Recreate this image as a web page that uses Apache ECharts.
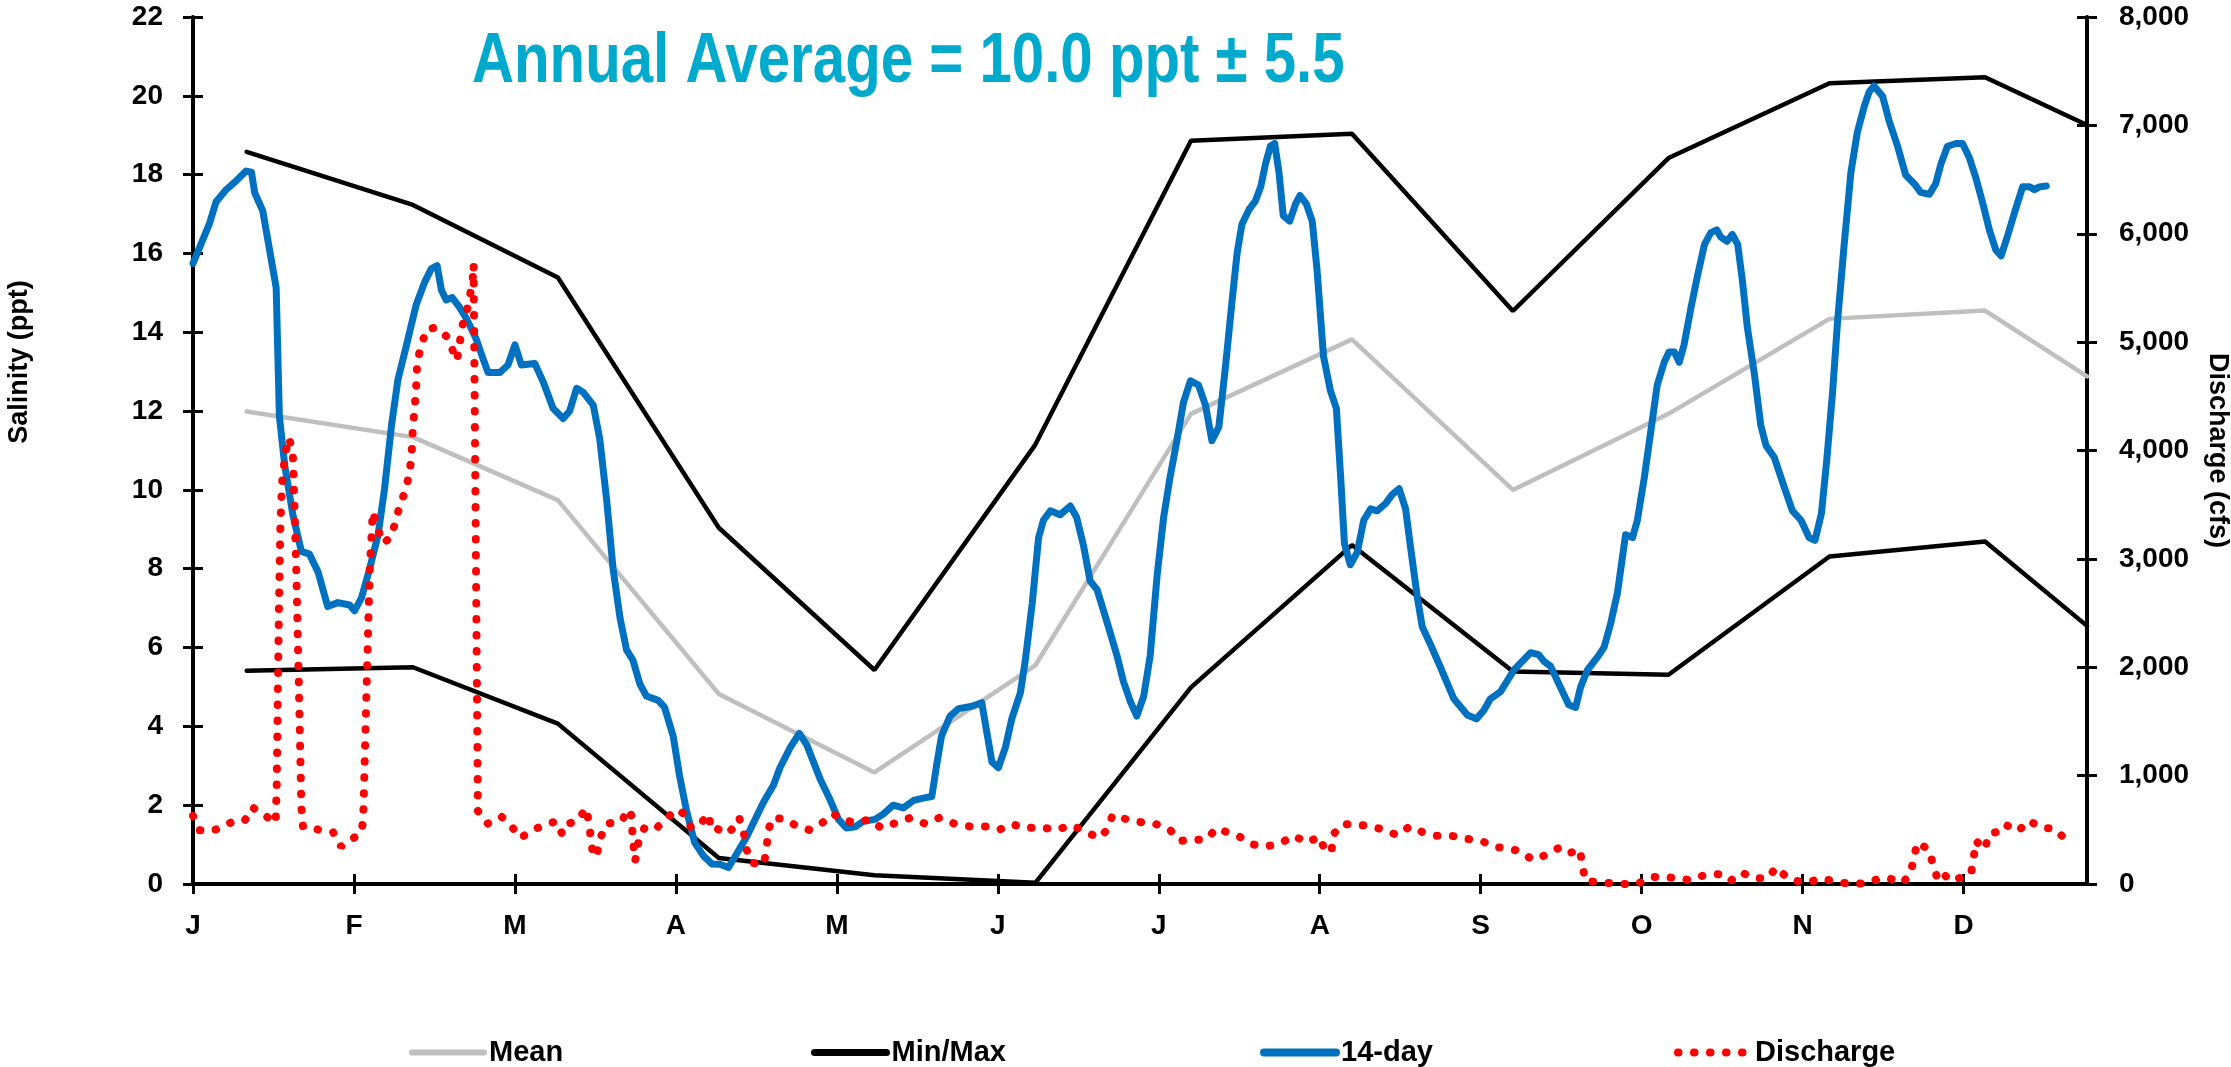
<!DOCTYPE html>
<html>
<head>
<meta charset="utf-8">
<script src="https://cdn.jsdelivr.net/npm/echarts@6/dist/echarts.min.js"></script>
<style>
  html, body { margin: 0; padding: 0; background: #ffffff; overflow: hidden; }
  #chart { width: 2231px; height: 1067px; }
</style>
</head>
<body>
<div id="chart"></div>
<script>
// Month initials placed every 30 days along the day-of-year axis
const monthLabels = ['J', 'F', 'M', 'A', 'M', 'J', 'J', 'A', 'S', 'O', 'N', 'D'];
const monthTickDays = [0, 30, 60, 90, 120, 150, 180, 210, 240, 270, 300, 330];

// Monthly statistics (salinity, ppt) at their sampling days
const statDays = [10, 41, 68, 98, 127, 157, 186, 216, 246, 275, 305, 334, 353];
const salinityMean = [11.99, 11.34, 9.74, 4.82, 2.83, 5.55, 11.93, 13.82, 10.0, 11.93, 14.34, 14.55, 12.88];
const salinityMin = [5.41, 5.50, 4.07, 0.66, 0.22, 0.03, 4.99, 8.60, 5.39, 5.31, 8.31, 8.69, 6.55];
const salinityMax = [18.58, 17.23, 15.39, 9.04, 5.43, 11.15, 18.86, 19.04, 14.54, 18.42, 20.32, 20.47, 19.26];

// 14-day running salinity (ppt)
const salinityDays = [
  0.0, 1.2, 3.1, 4.3, 6.2, 8.1, 9.9, 10.9, 11.5, 13.0, 14.9, 15.5, 16.1, 17.1, 18.6, 20.2, 21.7, 23.3, 25.1, 27.0,
  29.2, 30.1, 31.4, 32.9, 34.5, 35.7, 37.0, 38.2, 39.8, 41.6, 43.2, 44.4, 45.5, 46.3, 47.2, 48.3, 49.7, 51.0, 52.8, 54.1,
  55.0, 57.2, 58.7, 60.0, 61.2, 63.7, 65.3, 67.1, 69.0, 70.2, 71.5, 72.7, 74.6, 75.8, 77.1, 78.3, 79.6, 80.8, 82.0, 83.3,
  84.5, 86.7, 87.9, 89.5, 90.7, 92.0, 93.5, 95.1, 96.7, 98.2, 99.8, 101.0, 103.2, 106.3, 108.2, 109.4, 111.3, 113.0, 114.4, 116.9,
  118.7, 120.3, 121.8, 123.4, 124.9, 127.1, 128.7, 130.5, 132.4, 134.3, 136.1, 137.7, 138.6, 139.5, 141.1, 142.7, 145.2, 147.0, 148.9, 150.1,
  151.4, 152.6, 154.2, 155.1, 156.4, 157.6, 158.5, 159.8, 161.6, 163.5, 164.7, 166.0, 167.2, 168.5, 170.3, 172.2, 173.4, 174.7, 175.9, 177.2,
  178.4, 179.7, 180.9, 182.1, 183.4, 184.6, 185.9, 187.4, 188.7, 189.9, 191.2, 192.4, 193.7, 194.6, 195.5, 196.8, 198.0, 199.0, 199.9, 200.8,
  201.6, 202.4, 203.2, 204.4, 205.5, 206.3, 207.5, 208.6, 209.5, 210.7, 212.0, 213.1, 213.9, 214.6, 215.7, 217.0, 218.2, 219.5, 220.7, 222.3,
  223.5, 224.8, 226.0, 226.9, 228.2, 229.1, 230.6, 232.5, 235.0, 237.5, 239.2, 240.6, 241.8, 243.7, 246.2, 249.3, 250.8, 251.8, 253.0, 254.6,
  256.4, 257.7, 258.6, 259.9, 262.0, 263.0, 264.2, 265.5, 267.0, 268.3, 269.2, 270.5, 271.7, 272.9, 274.2, 275.1, 276.1, 277.0, 277.9, 279.2,
  280.4, 281.7, 282.9, 284.0, 284.7, 285.9, 286.9, 287.9, 288.8, 289.7, 291.0, 292.2, 293.2, 294.7, 296.3, 298.1, 299.7, 301.2, 302.3, 303.5,
  304.5, 305.6, 306.5, 307.7, 309.0, 310.2, 311.5, 312.4, 313.3, 314.9, 316.1, 317.7, 319.2, 320.8, 322.0, 323.6, 324.8, 325.8, 327.0, 328.6,
  329.8, 331.1, 332.3, 333.6, 334.8, 336.0, 337.0, 338.2, 339.5, 341.0, 342.3, 343.2, 344.1, 345.4
];
const salinity14Day = [
  15.75, 16.14, 16.77, 17.31, 17.62, 17.85, 18.09, 18.06, 17.54, 17.08, 15.60, 15.13, 11.87, 10.62, 9.38, 8.44, 8.37, 7.92, 7.04, 7.14,
  7.08, 6.93, 7.26, 7.99, 8.86, 10.03, 11.64, 12.80, 13.68, 14.70, 15.28, 15.61, 15.69, 15.07, 14.82, 14.88, 14.63, 14.34, 13.82, 13.31,
  12.98, 12.98, 13.17, 13.68, 13.17, 13.21, 12.73, 12.07, 11.81, 12.00, 12.58, 12.48, 12.15, 11.30, 9.74, 7.99, 6.74, 5.94, 5.68, 5.07,
  4.77, 4.66, 4.48, 3.75, 2.73, 1.85, 1.05, 0.72, 0.51, 0.50, 0.42, 0.69, 1.20, 2.07, 2.51, 2.95, 3.46, 3.82, 3.53, 2.66,
  2.15, 1.64, 1.42, 1.45, 1.59, 1.64, 1.78, 2.00, 1.93, 2.12, 2.18, 2.22, 3.02, 3.75, 4.26, 4.45, 4.51, 4.60, 3.10, 2.95,
  3.46, 4.19, 4.85, 5.65, 7.11, 8.79, 9.23, 9.47, 9.37, 9.59, 9.30, 8.57, 7.69, 7.47, 6.67, 5.80, 5.14, 4.63, 4.26, 4.77,
  5.80, 7.84, 9.30, 10.32, 11.27, 12.22, 12.77, 12.66, 12.15, 11.25, 11.60, 13.09, 14.85, 16.01, 16.74, 17.11, 17.33, 17.69, 18.28, 18.72,
  18.79, 18.06, 16.96, 16.82, 17.26, 17.47, 17.26, 16.82, 15.58, 13.39, 12.51, 12.07, 10.32, 8.64, 8.10, 8.42, 9.23, 9.52, 9.47, 9.66,
  9.88, 10.03, 9.52, 8.57, 7.26, 6.53, 6.09, 5.50, 4.70, 4.29, 4.19, 4.41, 4.70, 4.88, 5.43, 5.87, 5.82, 5.65, 5.53, 5.07,
  4.55, 4.48, 4.99, 5.43, 5.80, 6.01, 6.60, 7.40, 8.86, 8.79, 9.23, 10.32, 11.49, 12.66, 13.24, 13.50, 13.50, 13.24, 13.68, 14.63,
  15.43, 16.23, 16.53, 16.60, 16.42, 16.31, 16.48, 16.23, 15.28, 14.12, 12.95, 11.64, 11.12, 10.83, 10.18, 9.47, 9.23, 8.79, 8.72, 9.40,
  10.76, 12.51, 14.26, 16.16, 18.06, 19.08, 19.74, 20.10, 20.25, 19.99, 19.37, 18.72, 17.99, 17.77, 17.55, 17.50, 17.77, 18.28, 18.72, 18.79,
  18.79, 18.42, 17.91, 17.26, 16.60, 16.09, 15.94, 16.45, 17.04, 17.69, 17.69, 17.62, 17.69, 17.71
];

// Daily discharge (cfs)
const dischargeDays = [
  0.0, 1.2, 2.4, 4.3, 6.1, 7.3, 9.6, 11.1, 12.3, 14.6, 15.4, 15.6, 16.0, 16.3, 16.6, 17.2, 17.9, 18.6, 19.2, 19.7,
  20.2, 20.5, 21.2, 23.5, 26.1, 27.6, 28.8, 31.2, 31.7, 32.3, 32.9, 33.5, 34.4, 35.4, 36.8, 37.8, 38.5, 39.6, 40.3, 40.7,
  41.0, 41.3, 41.6, 41.8, 42.6, 43.5, 45.2, 47.5, 48.5, 49.2, 49.7, 50.1, 51.0, 51.6, 52.1, 52.3, 52.7, 53.1, 54.9, 57.5,
  59.4, 61.0, 63.6, 65.4, 67.7, 68.8, 69.9, 71.6, 73.3, 73.8, 74.6, 75.4, 76.0, 77.1, 79.9, 81.1, 81.7, 82.0, 82.4, 83.0,
  84.2, 86.4, 88.3, 90.4, 91.4, 92.9, 94.8, 96.0, 96.7, 97.5, 99.5, 101.0, 101.8, 102.7, 103.2, 104.1, 106.4, 106.9, 107.2, 107.9,
  110.0, 112.7, 114.9, 117.4, 119.3, 121.5, 124.0, 125.9, 128.4, 131.2, 133.7, 136.4, 139.1, 141.9, 144.8, 147.8, 150.4, 152.7, 155.1, 157.9,
  160.8, 163.8, 166.4, 169.0, 170.3, 171.4, 174.1, 176.9, 179.5, 182.1, 184.0, 186.4, 188.7, 190.9, 193.0, 195.1, 197.4, 200.0, 202.7, 205.2,
  207.5, 210.0, 211.1, 212.2, 212.6, 214.2, 216.7, 219.5, 222.1, 224.4, 226.8, 229.2, 231.8, 234.4, 237.2, 240.1, 242.8, 245.3, 247.8, 249.6,
  251.8, 254.4, 256.0, 258.5, 258.9, 259.6, 263.5, 266.2, 269.2, 271.6, 274.2, 276.7, 278.8, 281.6, 284.4, 286.5, 288.6, 291.0, 293.5, 295.1,
  297.2, 300.2, 301.8, 303.7, 304.8, 307.2, 309.8, 312.4, 314.3, 316.1, 318.6, 320.1, 320.7, 321.4, 323.5, 324.3, 325.2, 326.3, 327.6, 329.8,
  331.4, 331.9, 332.3, 333.9, 334.8, 336.0, 337.6, 340.2, 342.1, 344.8, 346.6, 348.8
];
const discharge = [
  628, 497, 486, 503, 548, 571, 582, 707, 667, 594, 565, 900, 2500, 3350, 3700, 3975, 4116, 3980, 3000, 1900,
  700, 531, 537, 499, 478, 345, 393, 462, 568, 1700, 2851, 3435, 3286, 3143, 3196, 3345, 3488, 3631, 3780, 3929,
  4231, 4375, 4600, 4826, 4974, 5118, 5134, 5044, 4911, 4831, 4985, 5134, 5277, 5426, 5559, 5718, 3200, 674, 557, 621,
  531, 425, 504, 542, 579, 462, 557, 579, 701, 557, 250, 303, 435, 557, 579, 690, 632, 400, 212, 382,
  526, 515, 611, 690, 648, 515, 568, 648, 499, 515, 462, 531, 611, 462, 313, 196, 180, 329, 488, 605,
  605, 531, 499, 568, 648, 584, 568, 595, 515, 568, 611, 557, 611, 557, 531, 531, 504, 552, 515, 526,
  499, 542, 478, 425, 499, 637, 595, 568, 552, 499, 398, 409, 409, 515, 472, 435, 366, 345, 377, 446,
  382, 435, 292, 313, 462, 552, 552, 531, 499, 451, 531, 478, 446, 446, 419, 398, 340, 329, 292, 223,
  260, 329, 276, 319, 170, 27, 11, 0, 0, 64, 64, 53, 37, 80, 90, 27, 106, 53, 53, 154,
  53, 11, 27, 53, 37, 11, 0, 11, 53, 53, 11, 90, 239, 382, 319, 181, 37, 90, 27, 64,
  101, 250, 398, 319, 462, 478, 552, 488, 584, 515, 515, 425
];

const titleText = 'Annual Average = 10.0 ppt \u00B1 5.5';

const pairs = (xs, ys) => xs.map((x, i) => [x, ys[i]]);

const BOLD_FONT = "'Liberation Sans', Arial, sans-serif";

const axisLineStyle = { color: '#000000', width: 4 };
const tickStyle = { color: '#000000', width: 3 };
const tickLabelStyle = { color: '#000000', fontSize: 28, fontWeight: 'bold', fontFamily: BOLD_FONT };
const dotPattern = [0.5, 15.5];

const chart = echarts.init(document.getElementById('chart'), null, { renderer: 'canvas' });

const legendBase = {
  top: 1038,
  padding: 0,
  itemWidth: 72,
  itemHeight: 20,
  itemGap: 6,
  selectedMode: false,
  itemStyle: { opacity: 0 },
  textStyle: { color: '#000000', fontSize: 29, fontWeight: 'bold', fontFamily: BOLD_FONT }
};

chart.setOption({
  animation: false,
  backgroundColor: '#ffffff',
  graphic: [{
    // headline, drawn condensed
    type: 'text',
    x: 472,
    y: 62,
    scaleX: 0.82,
    style: {
      text: titleText,
      fill: '#00AACC',
      font: "bold 71px 'Liberation Sans', Arial, sans-serif",
      align: 'left',
      verticalAlign: 'middle'
    }
  }, {
    type: 'text',
    x: 20,
    y: 362,
    rotation: Math.PI / 2,
    style: {
      text: 'Salinity (ppt)',
      fill: '#000000',
      font: "bold 27px 'Liberation Sans', Arial, sans-serif",
      align: 'center',
      verticalAlign: 'middle'
    }
  }],
  legend: [
    Object.assign({}, legendBase, { left: 409, data: ['Mean'], lineStyle: { width: 6, cap: 'round' } }),
    Object.assign({}, legendBase, { left: 811, data: ['Min/Max'], lineStyle: { width: 7, cap: 'round' } }),
    Object.assign({}, legendBase, { left: 1260, data: ['14-day'], lineStyle: { width: 8, cap: 'round' } }),
    Object.assign({}, legendBase, {
      left: 1674, data: ['Discharge'],
      lineStyle: { color: '#FF0000', width: 8, type: dotPattern, cap: 'round' }
    })
  ],
  grid: { left: 193, right: 144, top: 17, bottom: 183, outerBoundsMode: 'none', containLabel: false },
  xAxis: [{
    type: 'value',
    min: 0,
    max: 353,
    position: 'bottom',
    axisLine: { show: true, onZero: false, lineStyle: axisLineStyle },
    axisTick: { show: true, length: 10, lineStyle: tickStyle, customValues: monthTickDays },
    axisLabel: {
      show: true,
      margin: 28,
      customValues: monthTickDays,
      formatter: (v) => monthLabels[Math.round(v / 30)] || '',
      color: '#000000', fontSize: 28, fontWeight: 'bold', fontFamily: BOLD_FONT
    },
    splitLine: { show: false }
  }, {
    // inner half of the crossing tick marks
    type: 'value', min: 0, max: 353, position: 'bottom',
    axisLine: { show: false, onZero: false },
    axisTick: { show: true, inside: true, length: 10, lineStyle: tickStyle, customValues: monthTickDays },
    axisLabel: { show: false },
    splitLine: { show: false }
  }],
  yAxis: [{
    type: 'value',
    min: 0, max: 22, interval: 2,
    position: 'left',
    axisLine: { show: true, onZero: false, lineStyle: axisLineStyle },
    axisTick: { show: true, length: 10, lineStyle: tickStyle },
    axisLabel: Object.assign({ margin: 30 }, tickLabelStyle),
    splitLine: { show: false }
  }, {
    type: 'value',
    min: 0, max: 8000, interval: 1000,
    position: 'right',
    name: 'Discharge (cfs)',
    nameLocation: 'middle',
    nameRotate: -90,
    nameGap: 117,
    nameTextStyle: { color: '#000000', fontSize: 27, fontWeight: 'bold', fontFamily: BOLD_FONT },
    axisLine: { show: true, onZero: false, lineStyle: axisLineStyle },
    axisTick: { show: true, length: 10, lineStyle: tickStyle },
    axisLabel: Object.assign({ margin: 32, formatter: (v) => v.toLocaleString('en-US') }, tickLabelStyle),
    splitLine: { show: false }
  }, {
    // inner halves of the crossing tick marks
    type: 'value', min: 0, max: 22, interval: 2, position: 'left',
    axisLine: { show: false, onZero: false },
    axisTick: { show: true, inside: true, length: 10, lineStyle: tickStyle },
    axisLabel: { show: false },
    splitLine: { show: false }
  }, {
    type: 'value', min: 0, max: 8000, interval: 1000, position: 'right',
    axisLine: { show: false, onZero: false },
    axisTick: { show: true, inside: true, length: 10, lineStyle: tickStyle },
    axisLabel: { show: false },
    splitLine: { show: false }
  }],
  series: [{
    name: 'Mean',
    type: 'line',
    yAxisIndex: 0,
    symbol: 'none',
    data: pairs(statDays, salinityMean),
    lineStyle: { color: '#BFBFBF', width: 4.5, cap: 'round' },
    itemStyle: { color: '#BFBFBF' },
    emphasis: { disabled: true },
    z: 2
  }, {
    name: 'Min/Max',
    type: 'line',
    yAxisIndex: 0,
    symbol: 'none',
    data: pairs(statDays, salinityMin),
    lineStyle: { color: '#000000', width: 4.5, cap: 'round' },
    itemStyle: { color: '#000000' },
    emphasis: { disabled: true },
    z: 3
  }, {
    name: 'Min/Max',
    type: 'line',
    yAxisIndex: 0,
    symbol: 'none',
    data: pairs(statDays, salinityMax),
    lineStyle: { color: '#000000', width: 4.5, cap: 'round' },
    itemStyle: { color: '#000000' },
    emphasis: { disabled: true },
    z: 3
  }, {
    name: '14-day',
    type: 'line',
    yAxisIndex: 0,
    symbol: 'none',
    data: pairs(salinityDays, salinity14Day),
    lineStyle: { color: '#0070C0', width: 7, join: 'round', cap: 'round' },
    itemStyle: { color: '#0070C0' },
    emphasis: { disabled: true },
    z: 4
  }, {
    name: 'Discharge',
    type: 'line',
    yAxisIndex: 1,
    symbol: 'none',
    data: pairs(dischargeDays, discharge),
    lineStyle: { color: '#FF0000', width: 8, type: dotPattern, cap: 'round' },
    itemStyle: { color: '#FF0000' },
    emphasis: { disabled: true },
    z: 5
  }]
});
</script>
</body>
</html>
